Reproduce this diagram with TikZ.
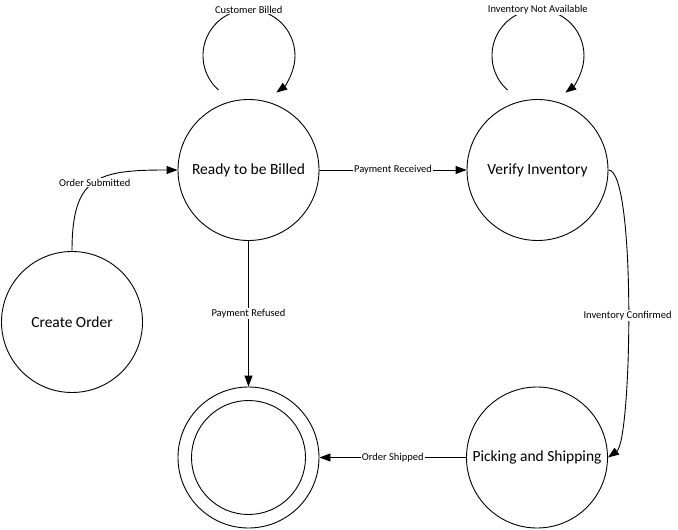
\documentclass[tikz,border=0pt]{standalone}
\usepackage{fontspec}
\setmainfont{Carlito}
\usetikzlibrary{arrows.meta}
\begin{document}
\begin{tikzpicture}[x=1pt,y=-1pt,line width=0.9pt,
  state/.style={draw,circle,minimum size=141pt,inner sep=0pt,font=\fontsize{15.5}{18}\selectfont},
  trans/.style={-{Triangle[length=11pt,width=8pt]}},
  lbl/.style={fill=white,inner sep=1pt,font=\fontsize{10.5}{12}\selectfont}]
\useasboundingbox (0,0) rectangle (678,530);
\node[state] (create) at (72,322) {Create Order};
\node[state] (ready) at (248.5,170) {Ready to be Billed};
\node[state] (verify) at (537.5,170) {Verify Inventory};
\node[state] (picking) at (537,457.5) {Picking and Shipping};
\node[state] (final) at (248.5,457.5) {};
\node[draw,circle,minimum size=114pt] (finalin) at (final) {};
% self loops
\draw[trans] ([shift={(-30,-9)}]ready.north) arc[start angle=131.5,end angle=413.6,radius=46]
  node[lbl,pos=0.49] {Customer Billed};
\draw[trans] ([shift={(-30,-9)}]verify.north) arc[start angle=131.5,end angle=413.6,radius=46]
  node[lbl,pos=0.49] {Inventory Not Available};
% transitions
\draw[trans] (create.north) .. controls +(0,-75) and +(-80,0) .. node[lbl] {Order Submitted} (ready.west);
\draw[trans] (ready) -- node[lbl] {Payment Received} (verify);
\draw[trans] (ready) -- node[lbl] {Payment Refused} (final);
\draw[trans] (verify.east) .. controls +(28,0) and +(24,-17) .. node[lbl,pos=0.52] {Inventory Confirmed} (picking.east);
\draw[trans] (picking) -- node[lbl] {Order Shipped} (final);
\end{tikzpicture}
\end{document}
